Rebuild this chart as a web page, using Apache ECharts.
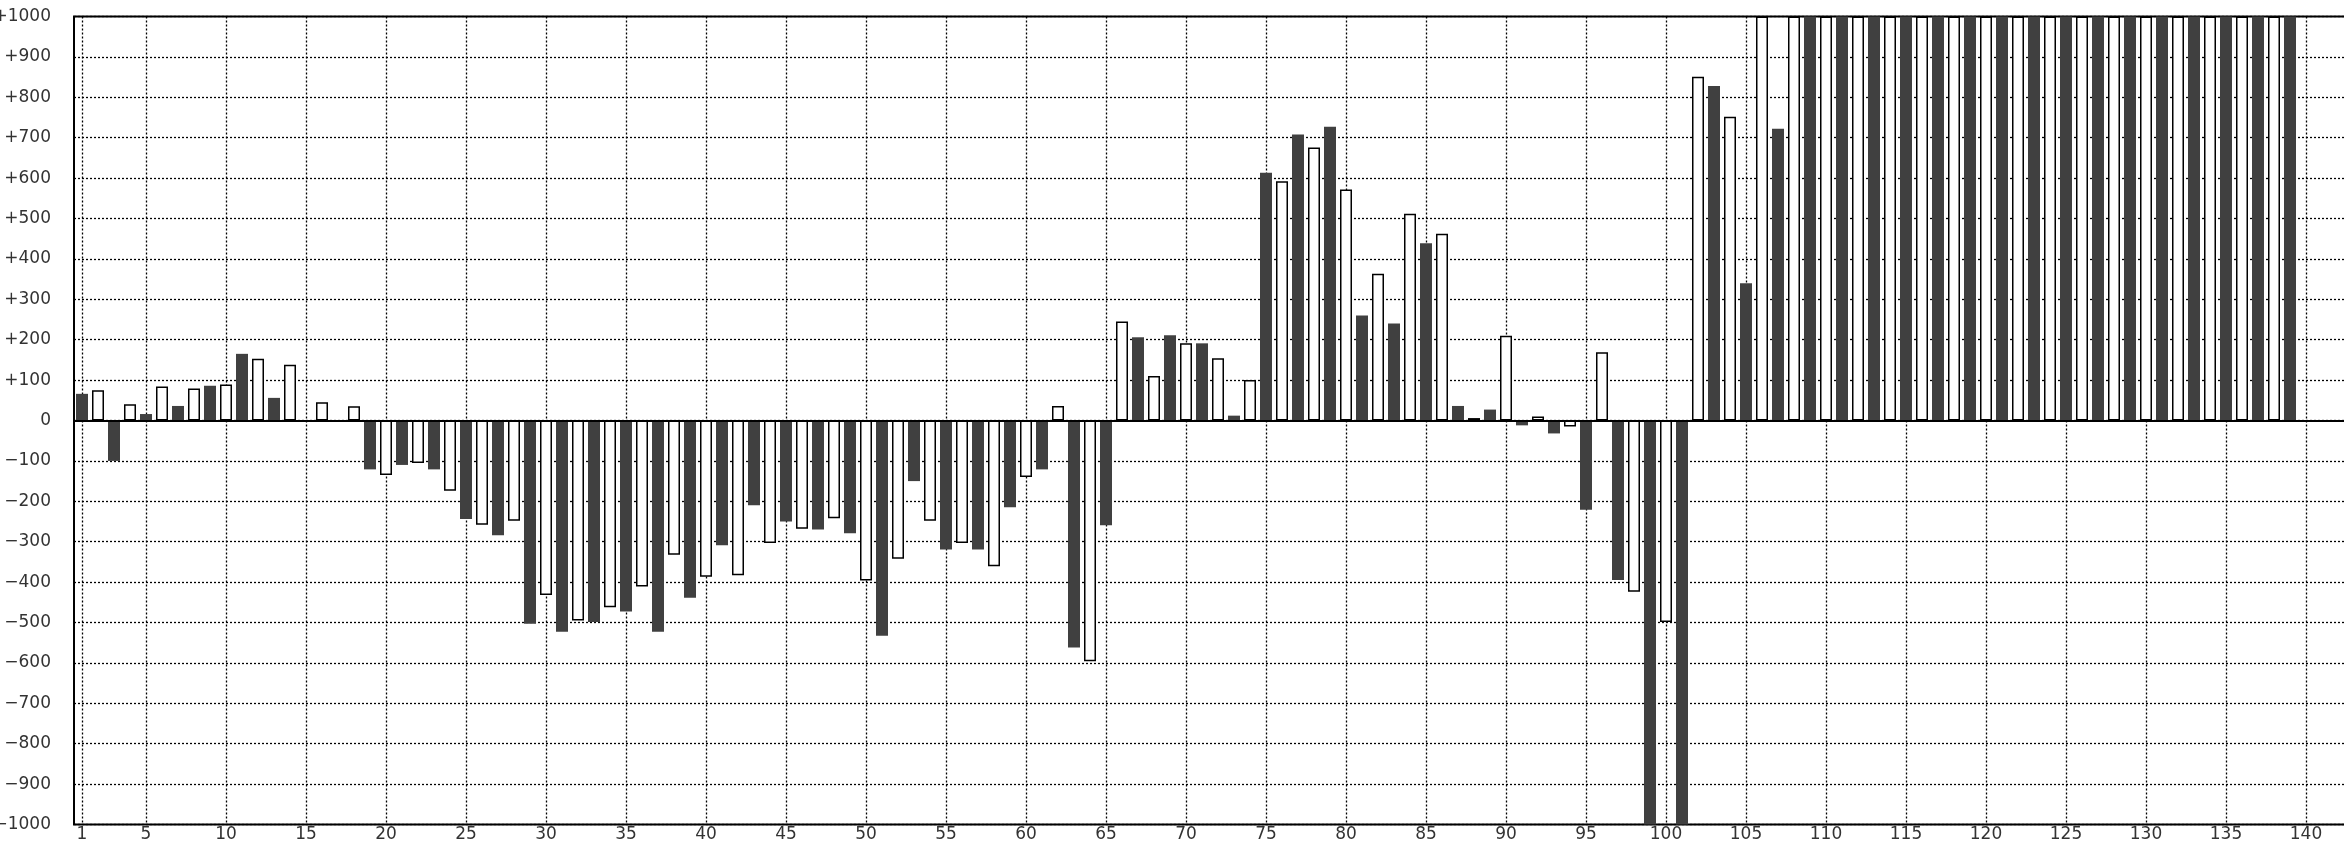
<!DOCTYPE html>
<html>
<head>
<meta charset="utf-8">
<script src="https://cdn.jsdelivr.net/npm/echarts@6/dist/echarts.min.js"></script>
<style>
html,body{margin:0;padding:0;background:#ffffff;}
#chart{width:2344px;height:846px;}
</style>
</head>
<body>
<div id="chart"></div>
<script>
// Odd-numbered categories (dark bars) and even-numbered categories (white bars)
const oddCategories = [1,3,5,7,9,11,13,15,17,19,21,23,25,27,29,31,33,35,37,39,41,43,45,47,49,51,53,55,57,59,61,63,65,67,69,71,73,75,77,79,81,83,85,87,89,91,93,95,97,99,101,103,105,107,109,111,113,115,117,119,121,123,125,127,129,131,133,135,137,139];
const evenCategories = [2,4,6,8,10,12,14,16,18,20,22,24,26,28,30,32,34,36,38,40,42,44,46,48,50,52,54,56,58,60,62,64,66,68,70,72,74,76,78,80,82,84,86,88,90,92,94,96,98,100,102,104,106,108,110,112,114,116,118,120,122,124,126,128,130,132,134,136,138,140];

const darkValues = [66,-100,16,36,86,165,56,null,null,-121,-110,-121,-244,-284,-503,-523,-499,-473,-523,-439,-309,-210,-250,-270,-279,-533,-150,-319,-319,-215,-121,-562,-259,206,211,191,12,613,708,727,260,240,439,36,27,-12,-32,-221,-395,-1000,-1000,828,340,722,1000,1000,1000,1000,1000,1000,1000,1000,1000,1000,1000,1000,1000,1000,1000,1000];
const lightValues = [75,40,84,79,89,153,138,45,35,-135,-105,-174,-258,-248,-432,-495,-462,-411,-332,-387,-383,-303,-268,-242,-396,-342,-248,-303,-361,-140,36,-596,245,110,191,154,100,592,676,572,363,512,462,6,210,10,-15,169,-424,-499,851,752,1000,1000,1000,1000,1000,1000,1000,1000,1000,1000,1000,1000,1000,1000,1000,1000,1000,null];

const xTickValues = [1,5,10,15,20,25,30,35,40,45,50,55,60,65,70,75,80,85,90,95,100,105,110,115,120,125,130,135,140];
const yMin = -1000, yMax = 1000, yStep = 100;
const xMin = 0.5, xMax = 142.5;

const darkData = oddCategories.map((c, i) => [c, darkValues[i]]);
const lightData = evenCategories.map((c, i) => [c, lightValues[i]]);

const FONT = 'DejaVu Sans';
const dotted = { color: '#000', width: 1.3, type: [2, 2] };

const chart = echarts.init(document.getElementById('chart'), null, { renderer: 'canvas' });
chart.setOption({
  animation: false,
  backgroundColor: '#ffffff',
  grid: {
    left: 74, right: -2, top: 16.5, bottom: 21.5,
    show: true, borderColor: '#000', borderWidth: 2, backgroundColor: 'transparent',
    containLabel: false, outerBoundsMode: 'none'
  },
  xAxis: {
    type: 'value', min: xMin, max: xMax,
    axisLine: { show: false },
    axisTick: { show: false, customValues: xTickValues },
    axisLabel: {
      customValues: xTickValues, margin: 2,
      fontFamily: FONT, fontSize: 17, color: '#333',
      formatter: v => String(v)
    },
    splitLine: { show: true, lineStyle: dotted }
  },
  yAxis: {
    type: 'value', min: yMin, max: yMax, interval: yStep,
    axisLine: { show: false },
    axisTick: { show: false },
    axisLabel: {
      margin: 23, fontFamily: FONT, fontSize: 17, color: '#333',
      formatter: v => v > 0 ? '+' + v : (v < 0 ? '\u2212' + (-v) : '0')
    },
    splitLine: { show: true, lineStyle: dotted }
  },
  series: [
    {
      name: 'odd', type: 'bar', data: darkData, barWidth: 12, barGap: '-100%',
      itemStyle: { color: '#404040' },
      markLine: {
        silent: true, symbol: ['none', 'none'], label: { show: false },
        lineStyle: { color: '#000', width: 2, type: 'solid' },
        data: [{ yAxis: 0 }]
      }
    },
    {
      name: 'even', type: 'bar', data: lightData, barWidth: 12, barGap: '-100%',
      itemStyle: { color: '#ffffff', borderColor: '#000', borderWidth: 1.5 }
    }
  ]
});
</script>
</body>
</html>
